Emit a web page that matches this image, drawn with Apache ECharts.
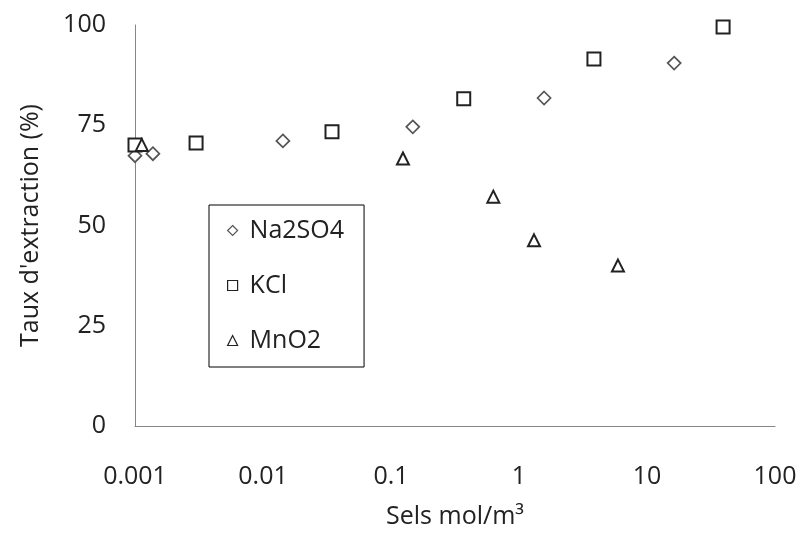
<!DOCTYPE html>
<html><head><meta charset="utf-8">
<script src="https://cdn.jsdelivr.net/npm/echarts@6/dist/echarts.min.js"></script>
<style>html,body{margin:0;padding:0;background:#fff}#c{width:811px;height:534px}</style>
</head><body><div id="c"></div>
<script>
const seriesNames = ['Na2SO4', 'KCl', 'MnO2'];
const na2so4X = [0.001, 0.00138, 0.0143, 0.148, 1.57, 16.3];
const na2so4Y = [67.4, 67.9, 71.1, 74.6, 81.8, 90.5];
const kclX = [0.001, 0.0030, 0.0346, 0.37, 3.85, 39.3];
const kclY = [70.1, 70.6, 73.4, 81.6, 91.5, 99.5];
const mno2X = [0.00113, 0.124, 0.63, 1.31, 5.93];
const mno2Y = [70.1, 66.7, 57.2, 46.3, 40.0];
const xTicks = ['0.001', '0.01', '0.1', '1', '10', '100'];
const yTicks = [0, 25, 50, 75, 100];

const zip = (a, b) => a.map((v, i) => [v, b[i]]);
const font = '"Open Sans", Lato, sans-serif';
const chart = echarts.init(document.getElementById('c'));
const mk = (name, x, y, symbol, size, color, bw) => ({
  name, type: 'scatter', data: zip(x, y), symbol, symbolSize: size,
  itemStyle: { color: '#fff', borderColor: color, borderWidth: bw, opacity: 1 },
  emphasis: { disabled: true }
});
chart.setOption({
  animation: false,
  grid: { left: 135, right: 36, top: 25, bottom: 108, containLabel: false },
  legend: {
    orient: 'vertical', left: 209, top: 205,
    borderColor: '#000', borderWidth: 1,
    padding: [13, 20, 14, 18], itemGap: 30,
    itemWidth: 10, itemHeight: 10,
    itemStyle: { borderWidth: 1.2 },
    textStyle: { fontFamily: font, fontSize: 25, color: '#222', padding: [0, 0, 0, 7] },
    data: seriesNames
  },
  xAxis: {
    type: 'log', logBase: 10, min: 0.001, max: 100,
    name: 'Sels mol/m³', nameLocation: 'middle', nameGap: 78,
    nameTextStyle: { fontFamily: font, fontSize: 25, color: '#222' },
    axisLine: { show: true, lineStyle: { color: '#868686', width: 1 } },
    axisTick: { show: false }, splitLine: { show: false }, minorTick: { show: false },
    axisLabel: {
      fontFamily: font, fontSize: 25, color: '#222', margin: 38,
      formatter: v => { const e = Math.round(Math.log10(v)); return xTicks[e + 3]; }
    }
  },
  yAxis: {
    type: 'value', min: yTicks[0], max: yTicks[yTicks.length - 1], interval: 25,
    name: "Taux d'extraction (%)", nameLocation: 'middle', nameGap: 92,
    nameTextStyle: { fontFamily: font, fontSize: 25, color: '#222' },
    axisLine: { show: true, lineStyle: { color: '#868686', width: 1 } },
    axisTick: { show: false }, splitLine: { show: false },
    axisLabel: { fontFamily: font, fontSize: 25, color: '#222', margin: 29 }
  },
  series: [
    mk(seriesNames[0], na2so4X, na2so4Y, 'diamond', 13, '#555', 1.7),
    mk(seriesNames[1], kclX, kclY, 'rect', 13, '#222', 2),
    mk(seriesNames[2], mno2X, mno2Y, 'triangle', 12, '#222', 2)
  ]
});
</script></body></html>
